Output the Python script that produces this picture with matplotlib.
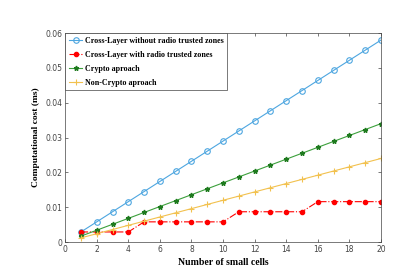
import matplotlib
matplotlib.use("Agg")
import matplotlib.pyplot as plt
import numpy as np

cells = list(range(1, 21))
cross_no_rtz = [0.0029, 0.0058, 0.0087, 0.0116, 0.0145, 0.0174, 0.0203, 0.0232, 0.0261, 0.0290,
                0.0319, 0.0348, 0.0377, 0.0406, 0.0435, 0.0464, 0.0493, 0.0522, 0.0551, 0.0580]
cross_rtz = [0.0029, 0.0029, 0.0029, 0.0029, 0.0058, 0.0058, 0.0058, 0.0058, 0.0058, 0.0058,
             0.0087, 0.0087, 0.0087, 0.0087, 0.0087, 0.0116, 0.0116, 0.0116, 0.0116, 0.0116]
crypto = [0.0017, 0.0034, 0.0051, 0.0068, 0.0085, 0.0102, 0.0119, 0.0136, 0.0153, 0.0170,
          0.0187, 0.0204, 0.0221, 0.0238, 0.0255, 0.0272, 0.0289, 0.0306, 0.0323, 0.0340]
noncrypto = [0.0012, 0.0024, 0.0036, 0.0048, 0.0060, 0.0072, 0.0084, 0.0096, 0.0108, 0.0120,
             0.0132, 0.0144, 0.0156, 0.0168, 0.0180, 0.0192, 0.0204, 0.0216, 0.0228, 0.0240]
labels = ["Cross-Layer without radio trusted zones", "Cross-Layer with radio trusted zones",
          "Crypto aproach", "Non-Crypto aproach"]

fig = plt.figure(figsize=(4.15, 2.76), dpi=100)
ax = fig.add_axes([0.157, 0.123, 0.761, 0.757])

ax.plot(cells, cross_no_rtz, '-o', color='#4DA6E0', lw=0.8, ms=4, mfc='none', mew=0.8, label=labels[0])
ax.plot(cells, cross_rtz, '-.', marker='o', color='#FF0000', lw=0.8, ms=3, mfc='#FF0000', label=labels[1])
ax.plot(cells, crypto, '-*', color='#3CA03C', mec='#1E7A1E', mfc='#1E7A1E', lw=0.8, ms=3.5, label=labels[2])
ax.plot(cells, noncrypto, '-+', color='#F2C14E', lw=0.8, ms=4, mew=0.8, label=labels[3])

ax.set_xlim(0, 20)
ax.set_ylim(0, 0.06)
ax.set_xticks(range(0, 21, 2))
ax.set_yticks([0, 0.01, 0.02, 0.03, 0.04, 0.05, 0.06])
ax.set_yticklabels(['0', '0.01', '0.02', '0.03', '0.04', '0.05', '0.06'])
ax.tick_params(direction='in', top=True, right=True, labelsize=5.5, colors='#444444',
               length=2.5, width=0.5, pad=2)
for s in ax.spines.values():
    s.set_linewidth(0.5)
    s.set_color('#444444')

ax.set_xlabel('Number of small cells', family='Liberation Serif', fontweight='bold', fontsize=7, labelpad=3)
ax.set_ylabel('Computational cost (ms)', family='Liberation Serif', fontweight='bold', fontsize=6.8, labelpad=4)

leg = ax.legend(loc='upper left', prop={'family': 'Liberation Serif', 'weight': 'bold', 'size': 5.8},
                fancybox=False, edgecolor='#444444', framealpha=1, borderaxespad=0,
                handlelength=1.7, handletextpad=0.3, labelspacing=0.75, borderpad=0.45)
leg.get_frame().set_linewidth(0.5)

fig.savefig('out.png', dpi=100)
